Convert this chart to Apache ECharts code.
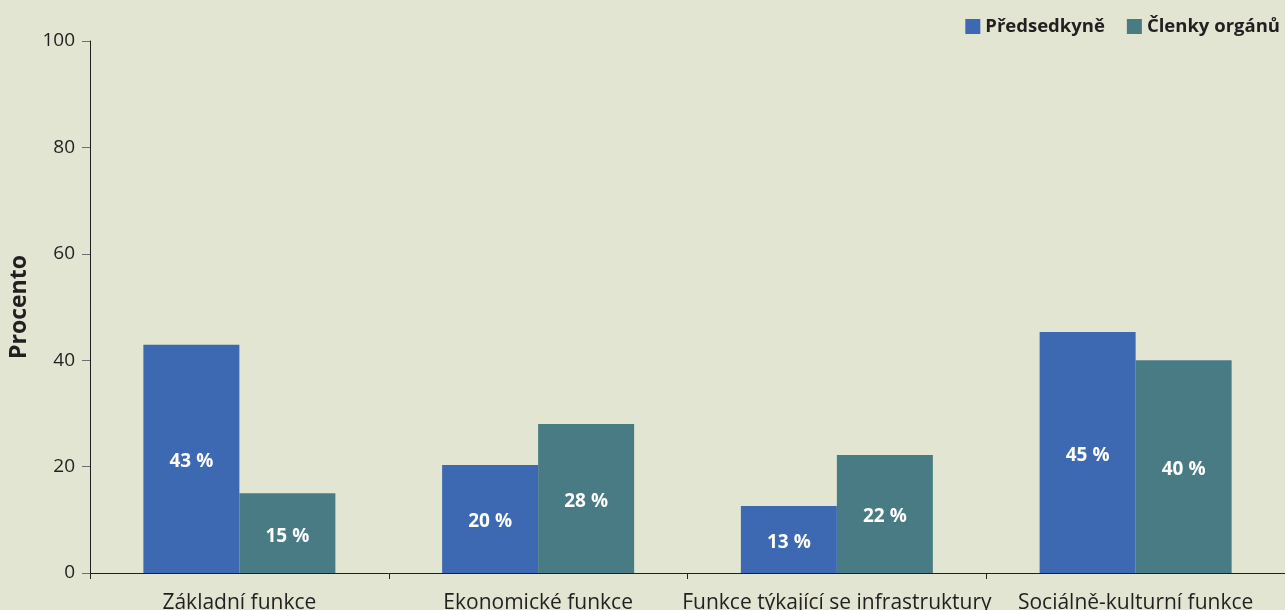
<!DOCTYPE html>
<html>
<head>
<meta charset="utf-8">
<script src="https://cdn.jsdelivr.net/npm/echarts@6/dist/echarts.min.js"></script>
<style>
html,body{margin:0;padding:0;background:#e1e5d2;}
#c{width:1285px;height:610px;}
</style>
</head>
<body>
<div id="c"></div>
<script>
const categories = ['Základní funkce', 'Ekonomické funkce', 'Funkce týkající se infrastruktury', 'Sociálně-kulturní funkce'];
const predsedkyne = [42.9, 20.3, 12.6, 45.3];
const clenky = [15.0, 28.0, 22.2, 40.0];
const seriesNames = ['Předsedkyně', 'Členky orgánů'];

const FONT = '"Open Sans", "Noto Sans", sans-serif';
const chart = echarts.init(document.getElementById('c'));
const lbl = {
  show: true, position: 'inside', color: '#ffffff', fontWeight: 'bold',
  fontSize: 19, fontFamily: FONT, offset: [0, 3],
  formatter: p => Math.round(p.value) + ' %'
};
chart.setOption({
  backgroundColor: '#e1e5d2',
  animation: false,
  legend: {
    top: 12, right: 0, itemWidth: 15, itemHeight: 15, itemGap: 22,
    icon: 'rect',
    textStyle: { fontFamily: FONT, fontWeight: 'bold', fontSize: 18.5, color: '#231f20' },
    data: seriesNames
  },
  grid: { left: 90, right: 0, top: 41, bottom: 37, containLabel: false, outerBoundsMode: 'none' },
  xAxis: {
    type: 'category', data: categories,
    axisLine: { lineStyle: { color: '#231f20', width: 1 } },
    axisTick: { show: true, length: 6, lineStyle: { color: '#231f20' } },
    axisLabel: { fontFamily: FONT, fontSize: 21, color: '#231f20', margin: 20, interval: 0 }
  },
  yAxis: {
    type: 'value', min: 0, max: 100, interval: 20,
    name: 'Procento', nameLocation: 'middle', nameGap: 59, nameRotate: 90,
    nameTextStyle: { fontFamily: FONT, fontWeight: 'bold', fontSize: 23, color: '#231f20' },
    axisLine: { show: true, lineStyle: { color: '#231f20', width: 1 } },
    axisTick: { show: true, length: 8, lineStyle: { color: '#6d6e71' } },
    splitLine: { show: false },
    axisLabel: { fontFamily: FONT, fontSize: 19, color: '#231f20', margin: 15 }
  },
  series: [
    { name: seriesNames[0], type: 'bar', data: predsedkyne, barWidth: 96, barGap: '0%',
      itemStyle: { color: '#3c69b2' }, label: lbl },
    { name: seriesNames[1], type: 'bar', data: clenky, barWidth: 96,
      itemStyle: { color: '#487b84' }, label: lbl }
  ]
});
</script>
</body>
</html>
